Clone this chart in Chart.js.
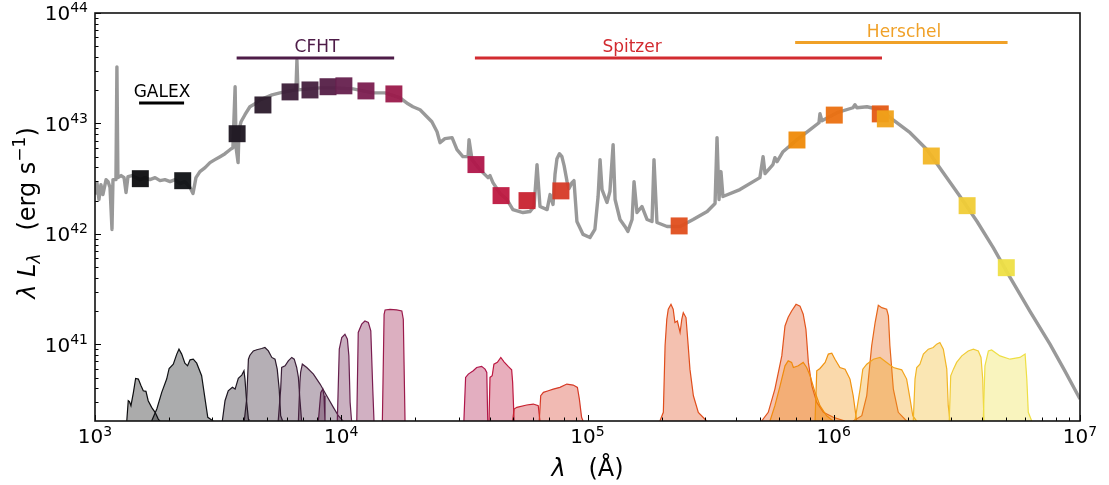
<!DOCTYPE html>
<html><head><meta charset="utf-8">
<script src="https://cdn.jsdelivr.net/npm/chart.js@4.4.0/dist/chart.umd.min.js"></script>
<style>html,body{margin:0;padding:0;background:#fff}canvas{display:block}</style>
</head><body>
<canvas id="c" width="1109" height="485" style="width:1109px;height:485px"></canvas>
<script>
// ---------------- DATA ----------------
// Axis ranges & ticks
const xMin = 1e3, xMax = 1e7;
const yMin = 2.02e40, yMax = 1e44;
const xTickExps = [3, 4, 5, 6, 7];
const yTickExps = [41, 42, 43, 44];

// Model spectrum (log10 lambda [Å], log10 lambda*L_lambda [erg/s])
const specLogLam = [3.000,3.008,3.016,3.024,3.032,3.045,3.053,3.061,3.069,3.073,3.085,3.089,3.093,3.106,3.118,3.126,3.134,3.150,3.166,3.183,3.203,3.223,3.244,3.264,3.284,3.305,3.325,3.345,3.365,3.386,3.398,3.410,3.426,3.447,3.467,3.487,3.508,3.528,3.548,3.560,3.569,3.573,3.581,3.585,3.593,3.609,3.629,3.650,3.670,3.690,3.719,3.751,3.792,3.816,3.820,3.824,3.873,3.914,3.975,4.048,4.129,4.178,4.239,4.271,4.291,4.320,4.348,4.368,4.389,4.401,4.421,4.450,4.470,4.494,4.515,4.519,4.531,4.563,4.596,4.604,4.616,4.645,4.673,4.697,4.738,4.766,4.783,4.795,4.807,4.836,4.848,4.860,4.868,4.876,4.886,4.896,4.905,4.917,4.925,4.937,4.945,4.957,4.982,5.010,5.030,5.043,5.051,5.059,5.079,5.091,5.104,5.112,5.132,5.152,5.164,5.181,5.189,5.201,5.221,5.242,5.262,5.270,5.282,5.323,5.376,5.429,5.486,5.518,5.526,5.534,5.542,5.550,5.619,5.700,5.713,5.721,5.753,5.761,5.770,5.794,5.851,5.904,5.940,5.944,5.952,6.013,6.078,6.086,6.094,6.135,6.188,6.241,6.310,6.379,6.444,6.513,6.582,6.647,6.716,6.797,6.878,6.939,7.000];
const specLogL = [42.356,42.464,42.311,42.446,42.356,42.491,42.473,42.419,42.040,42.491,42.491,43.512,42.509,42.528,42.509,42.374,42.519,42.528,42.509,42.491,42.509,42.491,42.509,42.482,42.491,42.473,42.491,42.455,42.473,42.419,42.365,42.509,42.564,42.600,42.645,42.672,42.699,42.726,42.762,42.780,43.332,42.780,42.645,42.943,43.015,43.079,43.151,43.178,43.214,43.232,43.259,43.277,43.295,43.304,43.575,43.304,43.313,43.322,43.322,43.313,43.277,43.277,43.232,43.178,43.151,43.124,43.061,43.015,42.925,42.826,42.862,42.871,42.762,42.699,42.699,42.853,42.672,42.582,42.509,42.528,42.464,42.365,42.311,42.220,42.193,42.202,42.248,42.627,42.248,42.220,42.356,42.266,42.537,42.681,42.726,42.699,42.618,42.473,42.410,42.464,42.482,42.112,41.995,41.967,42.040,42.338,42.672,42.401,42.284,42.383,42.808,42.311,42.130,42.067,42.022,42.130,42.473,42.193,42.248,42.130,42.112,42.672,42.103,42.067,42.067,42.130,42.202,42.275,42.871,42.311,42.564,42.338,42.401,42.509,42.699,42.546,42.627,42.690,42.654,42.744,42.853,42.943,43.006,43.088,43.024,43.097,43.142,43.169,43.142,43.151,43.124,43.033,42.916,42.762,42.555,42.338,42.112,41.877,41.606,41.299,41.001,40.757,40.504];

// Photometry (lambda in Å, lambda*L_lambda in 1e42 erg/s)
const photLam = [1528, 2271, 3777, 4808, 6195, 7465, 8837, 10250, 12600, 16360, 35240, 44560, 56800, 78000, 235600, 709000, 1005000, 1545000, 1620000, 2490000, 3480000, 5020000];
const photL42 = [3.16, 3.03, 8.07, 14.7, 19.3, 20.1, 21.5, 21.9, 19.7, 18.5, 4.24, 2.22, 2.00, 2.45, 1.18, 7.08, 11.9, 12.2, 11.0, 5.07, 1.80, 0.494];
const photColors = ['#0d0d0f','#0f1114','#1c1520','#2b1a2b','#3b1e38','#45203e','#551f47','#66204e','#7b1d50','#9b1a4b','#b0164a','#be1840','#c8222f','#d63a26','#e04e1c','#ef8a08','#eb7010','#e45a14','#f0a21a','#f2b626','#f0cc36','#eedf44'];

// Instrument bands
const bandNames = ['GALEX', 'CFHT', 'Spitzer', 'Herschel'];
const bandStart = [1510, 3760, 34900, 697000];
const bandEnd = [2300, 16400, 1570000, 5080000];
const bandLevel = [1.53e43, 3.91e43, 3.91e43, 5.40e43];
const bandLabelLam = [1871, 7970, 151700, 1930000];
const bandColors = ['#000000', '#4e1c48', '#d22b30', '#f0a128'];

// Filter response curves: [log10 lambda, log10 plotted level]
const fFUV = [[3.129,40.305],[3.135,40.489],[3.140,40.480],[3.146,40.444],[3.156,40.565],[3.165,40.691],[3.176,40.685],[3.187,40.624],[3.196,40.579],[3.207,40.574],[3.216,40.489],[3.230,40.429],[3.244,40.384],[3.257,40.323],[3.264,40.305]];
const fNUV = [[3.230,40.305],[3.251,40.414],[3.271,40.565],[3.291,40.685],[3.301,40.781],[3.318,40.820],[3.332,40.911],[3.341,40.956],[3.352,40.911],[3.365,40.829],[3.376,40.805],[3.386,40.859],[3.399,40.865],[3.413,40.829],[3.433,40.715],[3.447,40.504],[3.458,40.339],[3.480,40.305]];
const fU = [[3.517,40.305],[3.528,40.489],[3.541,40.579],[3.558,40.610],[3.569,40.594],[3.582,40.691],[3.596,40.721],[3.605,40.760],[3.609,40.685],[3.616,40.474],[3.623,40.323],[3.625,40.305]];
const fG = [[3.606,40.305],[3.616,40.504],[3.623,40.865],[3.629,40.901],[3.643,40.940],[3.657,40.951],[3.677,40.962],[3.690,40.971],[3.704,40.940],[3.718,40.881],[3.731,40.865],[3.740,40.775],[3.748,40.594],[3.754,40.353],[3.762,40.305]];
const fR = [[3.744,40.305],[3.754,40.594],[3.758,40.790],[3.772,40.805],[3.785,40.850],[3.799,40.881],[3.809,40.865],[3.819,40.790],[3.826,40.700],[3.832,40.504],[3.839,40.305]];
const fI = [[3.826,40.305],[3.832,40.655],[3.835,40.745],[3.842,40.820],[3.860,40.790],[3.887,40.730],[3.914,40.640],[3.941,40.534],[3.968,40.429],[3.988,40.353],[4.008,40.305]];
const fZ = [[3.907,40.305],[3.917,40.565],[3.925,40.594],[3.930,40.534],[3.934,40.305]];
const fY = [[3.984,40.305],[3.992,40.956],[4.002,41.061],[4.015,41.091],[4.025,41.046],[4.031,40.895],[4.036,40.474],[4.042,40.305]];
const fJ = [[4.063,40.305],[4.069,41.107],[4.083,41.182],[4.096,41.211],[4.110,41.197],[4.120,41.121],[4.128,40.594],[4.133,40.305]];
const fH = [[4.167,40.305],[4.174,41.272],[4.178,41.311],[4.198,41.317],[4.225,41.311],[4.246,41.302],[4.252,41.227],[4.259,40.305]];
const fI1 = [[4.498,40.305],[4.505,40.700],[4.516,40.730],[4.536,40.760],[4.550,40.790],[4.570,40.800],[4.584,40.775],[4.591,40.745],[4.595,40.305]];
const fI2 = [[4.600,40.305],[4.604,40.700],[4.613,40.715],[4.620,40.820],[4.634,40.836],[4.648,40.881],[4.661,40.841],[4.678,40.800],[4.692,40.769],[4.696,40.655],[4.702,40.305]];
const fI3 = [[4.696,40.305],[4.702,40.414],[4.713,40.429],[4.753,40.450],[4.780,40.459],[4.800,40.444],[4.807,40.305]];
const fI4 = [[4.804,40.305],[4.810,40.534],[4.821,40.565],[4.841,40.579],[4.861,40.594],[4.888,40.610],[4.916,40.640],[4.942,40.631],[4.959,40.610],[4.967,40.504],[4.976,40.339],[4.982,40.305]];
const fM24 = [[5.294,40.305],[5.308,40.384],[5.315,40.986],[5.322,41.227],[5.328,41.317],[5.339,41.362],[5.348,41.317],[5.355,41.197],[5.365,41.211],[5.376,41.107],[5.383,41.227],[5.389,41.287],[5.400,41.242],[5.409,40.986],[5.416,40.775],[5.430,40.534],[5.450,40.384],[5.484,40.305]];
const fP70a = [[5.707,40.305],[5.734,40.384],[5.761,40.594],[5.789,40.895],[5.802,41.166],[5.815,41.245],[5.829,41.302],[5.847,41.362],[5.863,41.346],[5.876,41.272],[5.887,41.136],[5.897,40.836],[5.911,40.624],[5.931,40.474],[5.958,40.384],[5.998,40.339],[6.046,40.305]];
const fP70b = [[5.741,40.305],[5.761,40.444],[5.782,40.624],[5.802,40.805],[5.815,40.850],[5.829,40.836],[5.836,40.790],[5.856,40.805],[5.876,40.836],[5.890,40.790],[5.904,40.715],[5.924,40.565],[5.944,40.444],[5.971,40.353],[5.998,40.305]];
const fP100 = [[5.924,40.305],[5.931,40.760],[5.944,40.781],[5.965,40.836],[5.978,40.911],[5.992,40.920],[6.005,40.865],[6.025,40.790],[6.046,40.775],[6.066,40.685],[6.079,40.534],[6.093,40.305]];
const fP160a = [[6.079,40.305],[6.114,40.353],[6.134,40.534],[6.154,40.986],[6.168,41.197],[6.181,41.353],[6.195,41.332],[6.215,41.317],[6.222,41.257],[6.228,40.986],[6.242,40.594],[6.262,40.384],[6.296,40.305]];
const fP160b = [[6.086,40.305],[6.107,40.594],[6.118,40.775],[6.134,40.820],[6.161,40.865],[6.188,40.881],[6.215,40.836],[6.242,40.790],[6.276,40.769],[6.296,40.685],[6.310,40.504],[6.321,40.353],[6.337,40.305]];
const fS250 = [[6.323,40.305],[6.330,40.685],[6.337,40.790],[6.350,40.820],[6.364,40.911],[6.384,40.956],[6.404,40.971],[6.418,41.001],[6.431,41.016],[6.445,40.956],[6.459,40.775],[6.465,40.444],[6.472,40.305]];
const fS350 = [[6.469,40.305],[6.475,40.715],[6.486,40.775],[6.499,40.836],[6.520,40.895],[6.546,40.940],[6.567,40.956],[6.587,40.940],[6.598,40.881],[6.605,40.685],[6.610,40.305]];
const fS500 = [[6.607,40.305],[6.614,40.805],[6.628,40.940],[6.641,40.949],[6.675,40.895],[6.716,40.865],[6.756,40.881],[6.777,40.911],[6.784,40.685],[6.790,40.384],[6.804,40.305]];
const filterCurves = [fFUV,fNUV,fU,fG,fR,fI,fZ,fY,fJ,fH,fI1,fI2,fI3,fI4,fM24,fP70a,fP70b,fP100,fP160a,fP160b,fS250,fS350,fS500];
const filterColors = ['#0d0d0f','#0f1114','#1c1520','#2b1a2b','#3b1e38','#45203e','#551f47','#66204e','#7b1d50','#9b1a4b','#b0164a','#be1840','#c8222f','#d63a26','#e04e1c','#e2541c','#f08a0c','#f0920f','#e6661a','#f2a41c','#f2b626','#f0cc36','#eedf44'];

// ---------------- BUILD ----------------
const FONT = '"DejaVu Sans", sans-serif';
function rgba(hex, a) {
  const n = parseInt(hex.slice(1), 16);
  return `rgba(${(n >> 16) & 255},${(n >> 8) & 255},${n & 255},${a})`;
}
const datasets = [];
// photometry squares (drawn on top: order 0)
datasets.push({
  data: photLam.map((l, i) => ({x: l, y: photL42[i] * 1e42})),
  showLine: false, pointStyle: 'rect', pointRadius: 12, pointHoverRadius: 12,
  pointBackgroundColor: photColors.map(c => rgba(c, 0.95)), pointBorderWidth: 0,
  order: 0
});
// band lines
bandNames.forEach((n, i) => {
  datasets.push({
    data: [{x: bandStart[i], y: bandLevel[i]}, {x: bandEnd[i], y: bandLevel[i]}],
    borderColor: bandColors[i], borderWidth: 3, pointRadius: 0, fill: false, order: 1
  });
});
// spectrum
const nSpec = Math.min(specLogLam.length, specLogL.length);
const specPts = [];
for (let i = 0; i < nSpec; i++) specPts.push({x: Math.pow(10, specLogLam[i]), y: Math.pow(10, specLogL[i])});
datasets.push({data: specPts, borderColor: '#999999', borderWidth: 3.4, pointRadius: 0, fill: false, tension: 0, order: 2, borderJoinStyle: 'round'});
// filters
filterCurves.forEach((f, i) => {
  datasets.push({
    data: f.map(p => ({x: Math.pow(10, p[0]), y: Math.pow(10, p[1])})),
    borderColor: filterColors[i], borderWidth: 1.2, backgroundColor: rgba(filterColors[i], 0.35),
    fill: 'start', pointRadius: 0, tension: 0, order: 3 + (filterCurves.length - i) * 0.001
  });
});

function drawPow(ctx, x, yBase, exp, align, big, small, raise) {
  ctx.font = `${big}px ${FONT}`;
  const w1 = ctx.measureText('10').width;
  ctx.font = `${small}px ${FONT}`;
  const w2 = ctx.measureText(String(exp)).width;
  const tot = w1 + w2;
  let x0 = align === 'center' ? x - tot / 2 : x - tot;
  ctx.textAlign = 'left'; ctx.textBaseline = 'alphabetic';
  ctx.font = `${big}px ${FONT}`;
  ctx.fillText('10', x0, yBase);
  ctx.font = `${small}px ${FONT}`;
  ctx.fillText(String(exp), x0 + w1, yBase - raise);
}

const decor = {
  id: 'decor',
  afterDraw(chart) {
    const {ctx, chartArea: a} = chart;
    const xs = chart.scales.x, ys = chart.scales.y;
    ctx.save();
    ctx.fillStyle = '#000'; ctx.strokeStyle = '#000';
    // ticks
    ctx.lineWidth = 1;
    ctx.beginPath();
    for (let e = 3; e <= 7; e++) for (let m = 1; m <= 9; m++) {
      const v = m * Math.pow(10, e);
      if (v > xMax * 1.0001) continue;
      const px = Math.round(xs.getPixelForValue(v)) + 0.5;
      const len = m === 1 ? 6 : 3.5;
      ctx.moveTo(px, a.bottom); ctx.lineTo(px, a.bottom - len);
    }
    for (let e = 40; e <= 44; e++) for (let m = 1; m <= 9; m++) {
      const v = m * Math.pow(10, e);
      if (v < yMin || v > yMax * 1.0001) continue;
      const py = Math.round(ys.getPixelForValue(v)) + 0.5;
      const len = m === 1 ? 6 : 3.5;
      ctx.moveTo(a.left, py); ctx.lineTo(a.left + len, py);
    }
    ctx.stroke();
    // spines
    ctx.lineWidth = 1.6; ctx.strokeStyle = '#111';
    ctx.strokeRect(a.left, a.top, a.right - a.left, a.bottom - a.top);
    // tick labels
    ctx.fillStyle = '#000';
    xTickExps.forEach(e => {
      const px = xs.getPixelForValue(Math.pow(10, e));
      drawPow(ctx, px, 443, e, 'center', 20, 14, 7);
    });
    yTickExps.forEach(e => {
      const py = ys.getPixelForValue(Math.pow(10, e));
      drawPow(ctx, a.left - 7, py + 7.4, e, 'right', 20, 14, 8);
    });
    // band labels
    ctx.font = `17px ${FONT}`; ctx.textAlign = 'center'; ctx.textBaseline = 'alphabetic';
    bandNames.forEach((n, i) => {
      const cx = xs.getPixelForValue(bandLabelLam[i]);
      const cy = ys.getPixelForValue(bandLevel[i]);
      ctx.fillStyle = bandColors[i];
      ctx.fillText(n, cx, cy - 6);
    });
    // x axis title
    ctx.fillStyle = '#000';
    const xt = [{t: 'λ', f: `italic 24px ${FONT}`}, {t: '   (Å)', f: `24px ${FONT}`}];
    let tw = 0; xt.forEach(p => { ctx.font = p.f; p.w = ctx.measureText(p.t).width; tw += p.w; });
    let cx = (a.left + a.right) / 2 - tw / 2;
    ctx.textAlign = 'left';
    xt.forEach(p => { ctx.font = p.f; ctx.fillText(p.t, cx, 476); cx += p.w; });
    // y axis title (rotated)
    const yt = [
      {t: 'λ', f: `italic 24px ${FONT}`, dy: 0},
      {t: ' ', f: `24px ${FONT}`, dy: 0},
      {t: 'L', f: `italic 24px ${FONT}`, dy: 0},
      {t: 'λ', f: `italic 17px ${FONT}`, dy: 5},
      {t: '   (erg s', f: `24px ${FONT}`, dy: 0},
      {t: '−1', f: `17px ${FONT}`, dy: -10},
      {t: ')', f: `24px ${FONT}`, dy: 0}
    ];
    tw = 0; yt.forEach(p => { ctx.font = p.f; p.w = ctx.measureText(p.t).width; tw += p.w; });
    ctx.translate(35, 213);
    ctx.rotate(-Math.PI / 2);
    let lx = -tw / 2;
    yt.forEach(p => { ctx.font = p.f; ctx.fillText(p.t, lx, p.dy); lx += p.w; });
    ctx.restore();
  }
};

new Chart(document.getElementById('c'), {
  type: 'line',
  data: {datasets},
  options: {
    responsive: false, animation: false, devicePixelRatio: 1,
    layout: {padding: {left: 95, right: 29, top: 13, bottom: 64}},
    plugins: {legend: {display: false}, tooltip: {enabled: false}},
    events: [],
    scales: {
      x: {type: 'logarithmic', min: xMin, max: xMax, display: false},
      y: {type: 'logarithmic', min: yMin, max: yMax, display: false}
    }
  },
  plugins: [decor]
});
</script>
</body></html>
